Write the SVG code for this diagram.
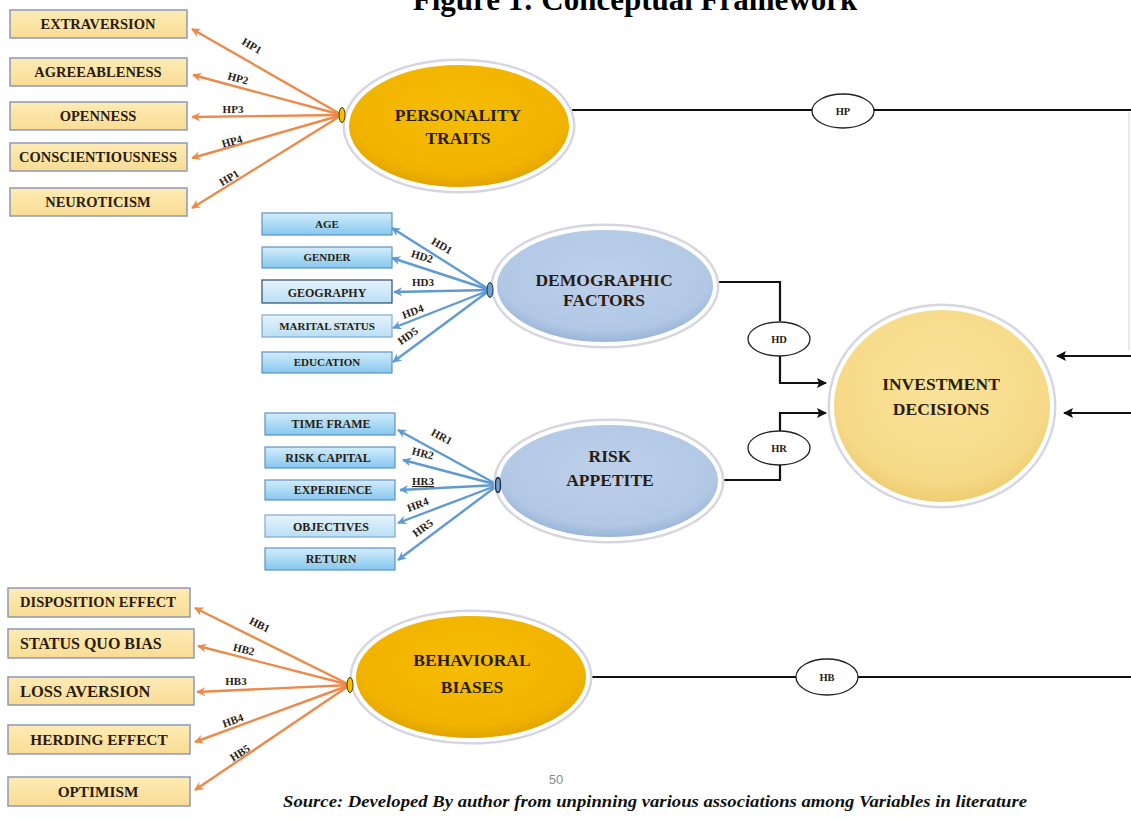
<svg xmlns="http://www.w3.org/2000/svg" width="1131" height="818" viewBox="0 0 1131 818">
  <defs>
    <linearGradient id="gYellowBox" x1="0" y1="0" x2="0" y2="1">
      <stop offset="0" stop-color="#FEEBB5"/>
      <stop offset="1" stop-color="#F9DC95"/>
    </linearGradient>
    <linearGradient id="gBlueBox" x1="0" y1="0" x2="0" y2="1">
      <stop offset="0" stop-color="#D3EDFB"/>
      <stop offset="1" stop-color="#86C7EE"/>
    </linearGradient>
    <linearGradient id="gPaleBlueBox" x1="0" y1="0" x2="0" y2="1">
      <stop offset="0" stop-color="#E6F4FC"/>
      <stop offset="1" stop-color="#B9DEF5"/>
    </linearGradient>
    <radialGradient id="gGold" cx="0.5" cy="0.4" r="0.6">
      <stop offset="0" stop-color="#F6BD05"/>
      <stop offset="0.8" stop-color="#F1B300"/>
      <stop offset="1" stop-color="#DFA200"/>
    </radialGradient>
    <radialGradient id="gSteel" cx="0.5" cy="0.4" r="0.6">
      <stop offset="0" stop-color="#BDD0EA"/>
      <stop offset="0.8" stop-color="#B2C8E5"/>
      <stop offset="1" stop-color="#97B2D6"/>
    </radialGradient>
    <radialGradient id="gSand" cx="0.5" cy="0.4" r="0.6">
      <stop offset="0" stop-color="#F9E29A"/>
      <stop offset="0.8" stop-color="#F6DA88"/>
      <stop offset="1" stop-color="#EDCC70"/>
    </radialGradient>
    <marker id="mOrange" viewBox="0 0 10 10" refX="9" refY="5" markerWidth="10" markerHeight="9" markerUnits="userSpaceOnUse" orient="auto">
      <path d="M0,0 L10,5 L0,10 L3,5 Z" fill="#EC8A4B"/>
    </marker>
    <marker id="mBlue" viewBox="0 0 10 10" refX="9" refY="5" markerWidth="10" markerHeight="9" markerUnits="userSpaceOnUse" orient="auto">
      <path d="M0,0 L10,5 L0,10 L3,5 Z" fill="#5F9BD2"/>
    </marker>
    <marker id="mBlack" viewBox="0 0 10 10" refX="9" refY="5" markerWidth="11" markerHeight="10" markerUnits="userSpaceOnUse" orient="auto">
      <path d="M0,0 L10,5 L0,10 L2,5 Z" fill="#111"/>
    </marker>
  </defs>
  <style>
    text { font-family: "Liberation Serif", "Times New Roman", serif; font-weight: bold; fill: #2A1C12; }
    .ybox { fill: url(#gYellowBox); stroke: #8C9AB3; stroke-width: 1.5; }
    .bbox { fill: url(#gBlueBox); stroke: #5E92C4; stroke-width: 1.2; }
    .pbox { fill: url(#gPaleBlueBox); stroke: #7FA9D3; stroke-width: 1.2; }
    .lbl14 { font-size: 14.5px; text-anchor: middle; }
    .lbl15 { font-size: 15.3px; text-anchor: middle; }
    .lbl11 { font-size: 11px; text-anchor: middle; }
    .lbl12 { font-size: 12px; text-anchor: middle; }
    .hyp { font-size: 11px; text-anchor: middle; }
    .tagtxt { font-size: 10.5px; text-anchor: middle; }
    .orange { stroke: #EC8A4B; stroke-width: 2.4; fill: none; marker-end: url(#mOrange); }
    .blue { stroke: #5F9BD2; stroke-width: 2.4; fill: none; marker-end: url(#mBlue); }
    .path { stroke: #111; stroke-width: 2.2; fill: none; }
    .arrow { stroke: #111; stroke-width: 2.2; fill: none; marker-end: url(#mBlack); }
    .halo { fill: none; stroke: #D6D6E2; stroke-width: 7; }
    .rim { stroke: #FFFFFF; stroke-width: 4; }
    .tag { fill: #FFFFFF; stroke: #222; stroke-width: 1.3; }
    .big { font-size: 17.5px; text-anchor: middle; }
  </style>

  <rect width="1131" height="818" fill="#FFFFFF"/>

  <!-- heading -->
  <text x="635" y="10" font-size="31" text-anchor="middle" style="fill:#000">Figure 1: Conceptual Framework</text>

  <!-- connectors -->
  <g id="connectors">
    <!-- personality traits spokes -->
    <line class="orange" x1="342" y1="115" x2="192" y2="29"/>
    <line class="orange" x1="342" y1="115" x2="193" y2="75"/>
    <line class="orange" x1="342" y1="115" x2="192" y2="117"/>
    <line class="orange" x1="342" y1="115" x2="192" y2="158"/>
    <line class="orange" x1="342" y1="115" x2="192" y2="208"/>
    <!-- demographic spokes -->
    <line class="blue" x1="490" y1="290" x2="392" y2="228"/>
    <line class="blue" x1="490" y1="290" x2="392" y2="258"/>
    <line class="blue" x1="490" y1="290" x2="394" y2="292"/>
    <line class="blue" x1="490" y1="290" x2="393" y2="328"/>
    <line class="blue" x1="490" y1="290" x2="393" y2="362"/>
    <!-- risk appetite spokes -->
    <line class="blue" x1="498" y1="485" x2="398" y2="430"/>
    <line class="blue" x1="498" y1="485" x2="403" y2="460"/>
    <line class="blue" x1="498" y1="485" x2="400" y2="490"/>
    <line class="blue" x1="498" y1="485" x2="398" y2="523"/>
    <line class="blue" x1="498" y1="485" x2="398" y2="560"/>
    <!-- behavioral biases spokes -->
    <line class="orange" x1="350" y1="685" x2="195" y2="608"/>
    <line class="orange" x1="350" y1="685" x2="198" y2="646"/>
    <line class="orange" x1="350" y1="685" x2="197" y2="692"/>
    <line class="orange" x1="350" y1="685" x2="195" y2="742"/>
    <line class="orange" x1="350" y1="685" x2="195" y2="790"/>

    <!-- paths to investment decisions -->
    <line class="path" x1="572" y1="110" x2="812" y2="110"/>
    <line class="path" x1="874" y1="110" x2="1131" y2="110"/>
    <line x1="1129" y1="112" x2="1129" y2="350" stroke="#D2D2D2" stroke-width="1"/>
    <path class="arrow" d="M1131,356 L1057,356"/>
    <path class="arrow" d="M1131,413 L1064,413"/>
    <path class="path" d="M716,282 L780,282 L780,321"/>
    <path class="arrow" d="M780,356 L780,383 L826,383"/>
    <path class="path" d="M721,480 L780,480 L780,465"/>
    <path class="arrow" d="M780,431 L780,413 L826,413"/>
    <line class="path" x1="590" y1="677" x2="796" y2="677"/>
    <line class="path" x1="858" y1="677" x2="1131" y2="677"/>

    <!-- hypothesis tags on spokes -->
    <text class="hyp" transform="translate(250,49) rotate(30)">HP1</text>
    <text class="hyp" transform="translate(237,82) rotate(15)">HP2</text>
    <text class="hyp" x="233" y="113">HP3</text>
    <text class="hyp" transform="translate(233,145) rotate(-16)">HP4</text>
    <text class="hyp" transform="translate(231,181) rotate(-31)">HP1</text>

    <text class="hyp" transform="translate(440,249) rotate(30)">HD1</text>
    <text class="hyp" transform="translate(421,260) rotate(17)">HD2</text>
    <text class="hyp" x="423" y="286">HD3</text>
    <text class="hyp" transform="translate(414,315) rotate(-21)">HD4</text>
    <text class="hyp" transform="translate(410,339) rotate(-35)">HD5</text>

    <text class="hyp" transform="translate(440,440) rotate(28)">HR1</text>
    <text class="hyp" transform="translate(422,457) rotate(14)">HR2</text>
    <text class="hyp" x="423" y="485" text-decoration="underline">HR3</text>
    <text class="hyp" transform="translate(419,508) rotate(-21)">HR4</text>
    <text class="hyp" transform="translate(425,531) rotate(-36)">HR5</text>

    <text class="hyp" transform="translate(258,628) rotate(27)">HB1</text>
    <text class="hyp" transform="translate(243,653) rotate(14)">HB2</text>
    <text class="hyp" x="236" y="685">HB3</text>
    <text class="hyp" transform="translate(234,724) rotate(-20)">HB4</text>
    <text class="hyp" transform="translate(242,756) rotate(-33)">HB5</text>

    <!-- path tags -->
    <ellipse class="tag" cx="843" cy="111" rx="31" ry="17"/>
    <text class="tagtxt" x="843" y="115">HP</text>
    <ellipse class="tag" cx="779" cy="339" rx="31" ry="17"/>
    <text class="tagtxt" x="779" y="343">HD</text>
    <ellipse class="tag" cx="779" cy="448" rx="31" ry="17"/>
    <text class="tagtxt" x="779" y="452">HR</text>
    <ellipse class="tag" cx="827" cy="677" rx="31" ry="18"/>
    <text class="tagtxt" x="827" y="681">HB</text>
  </g>

  <!-- personality trait items -->
  <g id="extraversion"><rect class="ybox" x="10" y="10" width="177" height="28"/><text class="lbl14" x="98" y="29">EXTRAVERSION</text></g>
  <g id="agreeableness"><rect class="ybox" x="10" y="58" width="177" height="28"/><text class="lbl14" x="98" y="77">AGREEABLENESS</text></g>
  <g id="openness"><rect class="ybox" x="10" y="102" width="177" height="28"/><text class="lbl14" x="98" y="121">OPENNESS</text></g>
  <g id="conscientiousness"><rect class="ybox" x="10" y="143" width="177" height="28"/><text class="lbl14" x="98" y="162" font-size="13.7">CONSCIENTIOUSNESS</text></g>
  <g id="neuroticism"><rect class="ybox" x="10" y="188" width="177" height="28"/><text class="lbl14" x="98" y="207">NEUROTICISM</text></g>

  <!-- demographic items -->
  <g id="age"><rect class="bbox" x="262" y="213" width="130" height="22"/><text class="lbl11" x="327" y="228">AGE</text></g>
  <g id="gender"><rect class="bbox" x="262" y="247" width="130" height="21"/><text class="lbl11" x="327" y="261">GENDER</text></g>
  <g id="geography"><rect class="pbox" x="262" y="280" width="130" height="23" style="stroke:#2D4A6B"/><text class="lbl12" x="327" y="297" font-size="12.5">GEOGRAPHY</text></g>
  <g id="marital-status"><rect class="pbox" x="262" y="315" width="130" height="22"/><text class="lbl11" x="327" y="330">MARITAL STATUS</text></g>
  <g id="education"><rect class="bbox" x="262" y="352" width="130" height="21"/><text class="lbl11" x="327" y="366">EDUCATION</text></g>

  <!-- risk appetite items -->
  <g id="time-frame"><rect class="bbox" x="265" y="413" width="130" height="22"/><text class="lbl12" x="331" y="428">TIME FRAME</text></g>
  <g id="risk-capital"><rect class="bbox" x="265" y="447" width="130" height="21"/><text class="lbl12" x="328" y="462">RISK CAPITAL</text></g>
  <g id="experience"><rect class="bbox" x="265" y="480" width="130" height="20"/><text class="lbl12" x="333" y="494">EXPERIENCE</text></g>
  <g id="objectives"><rect class="pbox" x="265" y="515" width="130" height="22"/><text class="lbl12" x="331" y="531" font-size="13.5">OBJECTIVES</text></g>
  <g id="return"><rect class="bbox" x="265" y="548" width="130" height="22"/><text class="lbl12" x="331" y="563">RETURN</text></g>

  <!-- behavioral bias items -->
  <g id="disposition-effect"><rect class="ybox" x="8" y="588" width="182" height="29"/><text class="lbl14" x="98" y="607" font-size="14.8">DISPOSITION EFFECT</text></g>
  <g id="status-quo-bias"><rect class="ybox" x="8" y="629" width="186" height="29"/><text x="20" y="649" font-size="16">STATUS QUO BIAS</text></g>
  <g id="loss-aversion"><rect class="ybox" x="8" y="677" width="186" height="28"/><text x="20" y="697" font-size="16.5">LOSS AVERSION</text></g>
  <g id="herding-effect"><rect class="ybox" x="8" y="725" width="182" height="29"/><text class="lbl15" x="99" y="745">HERDING EFFECT</text></g>
  <g id="optimism"><rect class="ybox" x="8" y="777" width="182" height="29"/><text class="lbl15" x="98" y="797">OPTIMISM</text></g>

  <!-- construct nodes -->
  <g id="personality-traits">
    <ellipse class="halo" cx="459" cy="126" rx="113" ry="64"/>
    <ellipse class="rim" cx="459" cy="126" rx="112" ry="63" fill="url(#gGold)"/>
    <ellipse cx="342" cy="115" rx="3" ry="7.5" fill="#F2C400" stroke="#4A3A00" stroke-width="1"/>
    <text class="big" x="458" y="121">PERSONALITY</text>
    <text class="big" x="458" y="144">TRAITS</text>
  </g>
  <g id="demographic-factors">
    <ellipse class="halo" cx="605" cy="286" rx="111" ry="59"/>
    <ellipse class="rim" cx="605" cy="286" rx="110" ry="58" fill="url(#gSteel)"/>
    <ellipse cx="490" cy="290" rx="3" ry="7.5" fill="#6F9FD2" stroke="#22364F" stroke-width="1"/>
    <text class="big" x="604" y="286" font-size="16.5">DEMOGRAPHIC</text>
    <text class="big" x="604" y="306" font-size="16.5">FACTORS</text>
  </g>
  <g id="risk-appetite">
    <ellipse class="halo" cx="609" cy="481" rx="112" ry="59"/>
    <ellipse class="rim" cx="609" cy="481" rx="111" ry="58" fill="url(#gSteel)"/>
    <ellipse cx="498" cy="485" rx="2.5" ry="7.5" fill="#6F9FD2" stroke="#1E2A3A" stroke-width="1.3"/>
    <text class="big" x="610" y="462">RISK</text>
    <text class="big" x="610" y="486">APPETITE</text>
  </g>
  <g id="behavioral-biases">
    <ellipse class="halo" cx="471" cy="677" rx="118" ry="64"/>
    <ellipse class="rim" cx="471" cy="677" rx="117" ry="63" fill="url(#gGold)"/>
    <ellipse cx="350" cy="685" rx="3" ry="7.5" fill="#F2C400" stroke="#4A3A00" stroke-width="1"/>
    <text class="big" x="472" y="666">BEHAVIORAL</text>
    <text class="big" x="472" y="693">BIASES</text>
  </g>
  <g id="investment-decisions">
    <ellipse class="halo" cx="942" cy="406" rx="111" ry="99"/>
    <ellipse class="rim" cx="942" cy="406" rx="110" ry="98" fill="url(#gSand)"/>
    <text class="big" x="941" y="390" font-size="18">INVESTMENT</text>
    <text class="big" x="941" y="415" font-size="18">DECISIONS</text>
  </g>

  <!-- page number and source line -->
  <text x="556" y="784" font-size="13" text-anchor="middle" style="font-family:'Liberation Sans',Arial,sans-serif;font-weight:normal;fill:#8A8A8A">50</text>
  <text x="283" y="807" font-size="16" font-style="italic" textLength="744" lengthAdjust="spacingAndGlyphs" style="fill:#111">Source: Developed By author from unpinning various associations among Variables in literature</text>
</svg>
